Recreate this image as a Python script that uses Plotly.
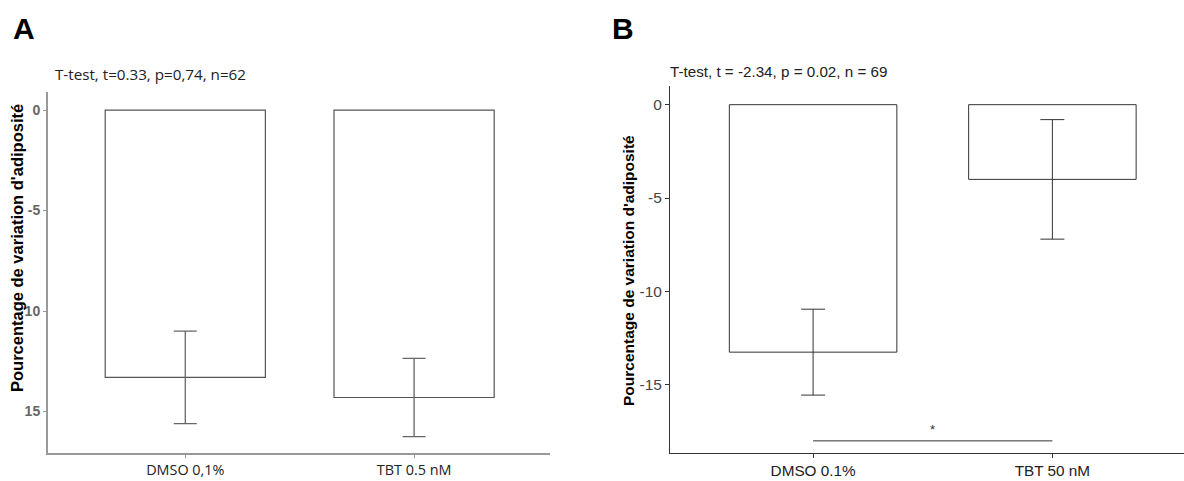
import plotly.graph_objects as go

W, H = 1184, 481

# ---- data ----
cats_a = ["DMSO 0,1%", "TBT 0.5 nM"]
means_a = [-13.3, -14.3]
err_a = [2.3, 1.95]
ticks_a = [0, -5, -10, -15]
ticktext_a = ["0", "-5", "10", "15"]

cats_b = ["DMSO 0.1%", "TBT 50 nM"]
means_b = [-13.25, -4.0]
err_b = [2.3, 3.2]
ticks_b = [0, -5, -10, -15]
ticktext_b = ["0", "-5", "-10", "-15"]
sig_y = -18.0

title_a = "T-test, t=0.33, p=0,74, n=62"
title_b = "T-test, t = -2.34, p = 0.02, n = 69"
ytitle = "Pourcentage de variation d'adiposité"


def px_x(p):
    return p / W


def px_y(p):
    return 1 - p / H


fig = go.Figure()

fig.add_trace(go.Bar(
    x=cats_a, y=means_a, width=0.7,
    marker=dict(color="white", line=dict(color="#555555", width=1.2)),
    error_y=dict(type="data", array=err_a, visible=True, color="#666666",
                 thickness=1.3, width=11.5),
    xaxis="x", yaxis="y", showlegend=False,
))

fig.add_trace(go.Bar(
    x=cats_b, y=means_b, width=0.7,
    marker=dict(color="white", line=dict(color="#333333", width=1)),
    error_y=dict(type="data", array=err_b, visible=True, color="#333333",
                 thickness=1, width=12),
    xaxis="x2", yaxis="y2", showlegend=False,
))

fig.add_trace(go.Scatter(
    x=cats_b, y=[sig_y, sig_y], mode="lines",
    line=dict(color="#333333", width=1),
    xaxis="x2", yaxis="y2", showlegend=False, hoverinfo="skip",
))

fig.update_layout(
    width=W, height=H,
    margin=dict(l=0, r=0, t=0, b=0),
    paper_bgcolor="white", plot_bgcolor="white",
    bargap=0.3,
    xaxis=dict(
        domain=[px_x(48), px_x(550)], anchor="y",
        range=[-0.6, 1.594], showgrid=False, zeroline=False,
        showline=True, linecolor="#999999", linewidth=2,
        ticks="outside", ticklen=3, tickcolor="#999999",
        tickfont=dict(family="Open Sans", size=14.4, color="#222222"),
    ),
    yaxis=dict(
        domain=[px_y(453), px_y(92)], anchor="x",
        range=[-17.06, 0.9], showgrid=False, zeroline=False,
        showline=True, linecolor="#999999", linewidth=2,
        ticks="outside", ticklen=3, tickcolor="#999999",
        tickvals=ticks_a, ticktext=ticktext_a,
        tickfont=dict(family="Liberation Sans", size=14, color="#666666", weight="bold"),
    ),
    xaxis2=dict(
        domain=[px_x(670), px_x(1184)], anchor="y2",
        range=[-0.598, 1.55], showgrid=False, zeroline=False,
        showline=True, linecolor="#333333", linewidth=1,
        ticks="outside", ticklen=4, tickcolor="#333333",
        tickfont=dict(family="Liberation Sans", size=15.3, color="#222222"),
    ),
    yaxis2=dict(
        domain=[px_y(453), px_y(86)], anchor="x2",
        range=[-18.65, 1.0], showgrid=False, zeroline=False,
        showline=True, linecolor="#333333", linewidth=1,
        ticks="outside", ticklen=4, tickcolor="#333333",
        tickvals=ticks_b, ticktext=ticktext_b,
        tickfont=dict(family="Liberation Sans", size=15.5, color="#444444"),
    ),
)

ann = []
ann.append(dict(text="<b>A</b>", x=px_x(11), y=px_y(29), xref="paper", yref="paper",
                xanchor="left", yanchor="middle", showarrow=False,
                font=dict(family="Liberation Sans", size=30, color="black")))
ann.append(dict(text="<b>B</b>", x=px_x(610), y=px_y(29), xref="paper", yref="paper",
                xanchor="left", yanchor="middle", showarrow=False,
                font=dict(family="Liberation Sans", size=30, color="black")))
ann.append(dict(text=title_a, x=px_x(53), y=px_y(74), xref="paper", yref="paper",
                xanchor="left", yanchor="middle", showarrow=False,
                font=dict(family="Open Sans", size=15.2, color="#222222")))
ann.append(dict(text=title_b, x=px_x(668), y=px_y(71), xref="paper", yref="paper",
                xanchor="left", yanchor="middle", showarrow=False,
                font=dict(family="Liberation Sans", size=15.2, color="#222222")))
ann.append(dict(text="<b>" + ytitle + "</b>", x=px_x(17), y=px_y(248), xref="paper", yref="paper",
                xanchor="center", yanchor="middle", textangle=-90, showarrow=False,
                font=dict(family="Liberation Sans", size=16.5, color="black")))
ann.append(dict(text="<b>" + ytitle + "</b>", x=px_x(628), y=px_y(271), xref="paper", yref="paper",
                xanchor="center", yanchor="middle", textangle=-90, showarrow=False,
                font=dict(family="Liberation Sans", size=15.5, color="black")))
ann.append(dict(text="*", x=0.5, y=sig_y, xref="x2", yref="y2",
                xanchor="center", yanchor="bottom", showarrow=False, yshift=2,
                font=dict(family="Liberation Sans", size=13, color="#333333")))
fig.update_layout(annotations=ann)

fig.write_html(
    "out.html",
    config={"displayModeBar": False},
    post_script="document.body.style.margin='0';document.body.style.overflow='hidden';",
)
